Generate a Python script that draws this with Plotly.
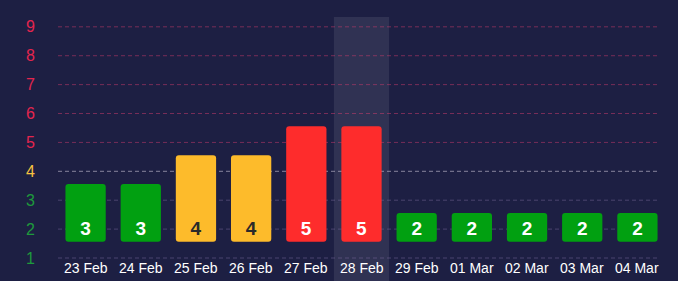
import plotly.graph_objects as go

dates = ["23 Feb", "24 Feb", "25 Feb", "26 Feb", "27 Feb", "28 Feb",
         "29 Feb", "01 Mar", "02 Mar", "03 Mar", "04 Mar"]
values = [3, 3, 4, 4, 5, 5, 2, 2, 2, 2, 2]
highlight = "28 Feb"
y_ticks = [1, 2, 3, 4, 5, 6, 7, 8, 9]

BG = "#1d1f43"
GREEN = "#01a011"
YELLOW = "#fdbb2b"
RED = "#fe2c2c"
LBL_GREEN = "#1d9a3c"
LBL_YELLOW = "#f6c140"
LBL_RED = "#e4254e"
BASE = 1.56
FONT = "Liberation Sans, Arial, sans-serif"


def bar_color(v):
    return GREEN if v <= 3 else (YELLOW if v == 4 else RED)


def text_color(v):
    return "#2a2a2a" if v == 4 else "#ffffff"


def label_color(v):
    return LBL_GREEN if v <= 3 else (LBL_YELLOW if v == 4 else LBL_RED)


def grid_color(v):
    if v <= 3:
        return "rgba(120,105,155,0.5)"
    if v == 4:
        return "rgba(190,185,205,0.65)"
    return "rgba(210,60,110,0.5)"


fig = go.Figure()
fig.add_trace(go.Bar(
    x=dates,
    y=[v - 1 for v in values],
    base=BASE,
    text=[str(v) for v in values],
    texttemplate="<b>%{text}</b>",
    textposition="inside",
    insidetextanchor="start",
    textangle=0,
    textfont=dict(family=FONT, size=19,
                  color=[text_color(v) for v in values]),
    marker=dict(color=[bar_color(v) for v in values], line=dict(width=0),
                cornerradius=3),
    hoverinfo="skip",
))

shapes = []
idx = dates.index(highlight)
shapes.append(dict(type="rect", xref="x", yref="paper",
                   x0=idx - 0.5, x1=idx + 0.5, y0=0, y1=1,
                   fillcolor="rgba(255,255,255,0.085)", line=dict(width=0),
                   layer="below"))
for v in y_ticks:
    shapes.append(dict(type="line", xref="paper", yref="y",
                       x0=0, x1=0.99, y0=v, y1=v,
                       line=dict(color=grid_color(v), width=1, dash="4px,3px"),
                       layer="below"))

annotations = []
for d in dates:
    annotations.append(dict(x=d, y=0.66, xref="x", yref="y", text=d,
                            showarrow=False,
                            font=dict(family=FONT, size=14, color="#ffffff")))

fig.update_layout(
    width=678, height=281,
    margin=dict(l=58, r=13, t=17, b=0),
    paper_bgcolor=BG, plot_bgcolor=BG,
    bargap=0.27,
    showlegend=False,
    shapes=shapes,
    annotations=annotations,
    xaxis=dict(range=[-0.5, len(dates) - 0.5], showgrid=False, zeroline=False,
               showticklabels=False, showline=False, fixedrange=True),
    yaxis=dict(range=[0.204, 9.34], showgrid=False, zeroline=False,
               tickmode="array", tickvals=y_ticks,
               ticktext=[f'<span style="color:{label_color(v)}">{v}</span>' for v in y_ticks],
               tickfont=dict(family=FONT, size=16),
               ticklabelstandoff=22, ticks="", showline=False, fixedrange=True),
)

fig.write_html("out.html")
